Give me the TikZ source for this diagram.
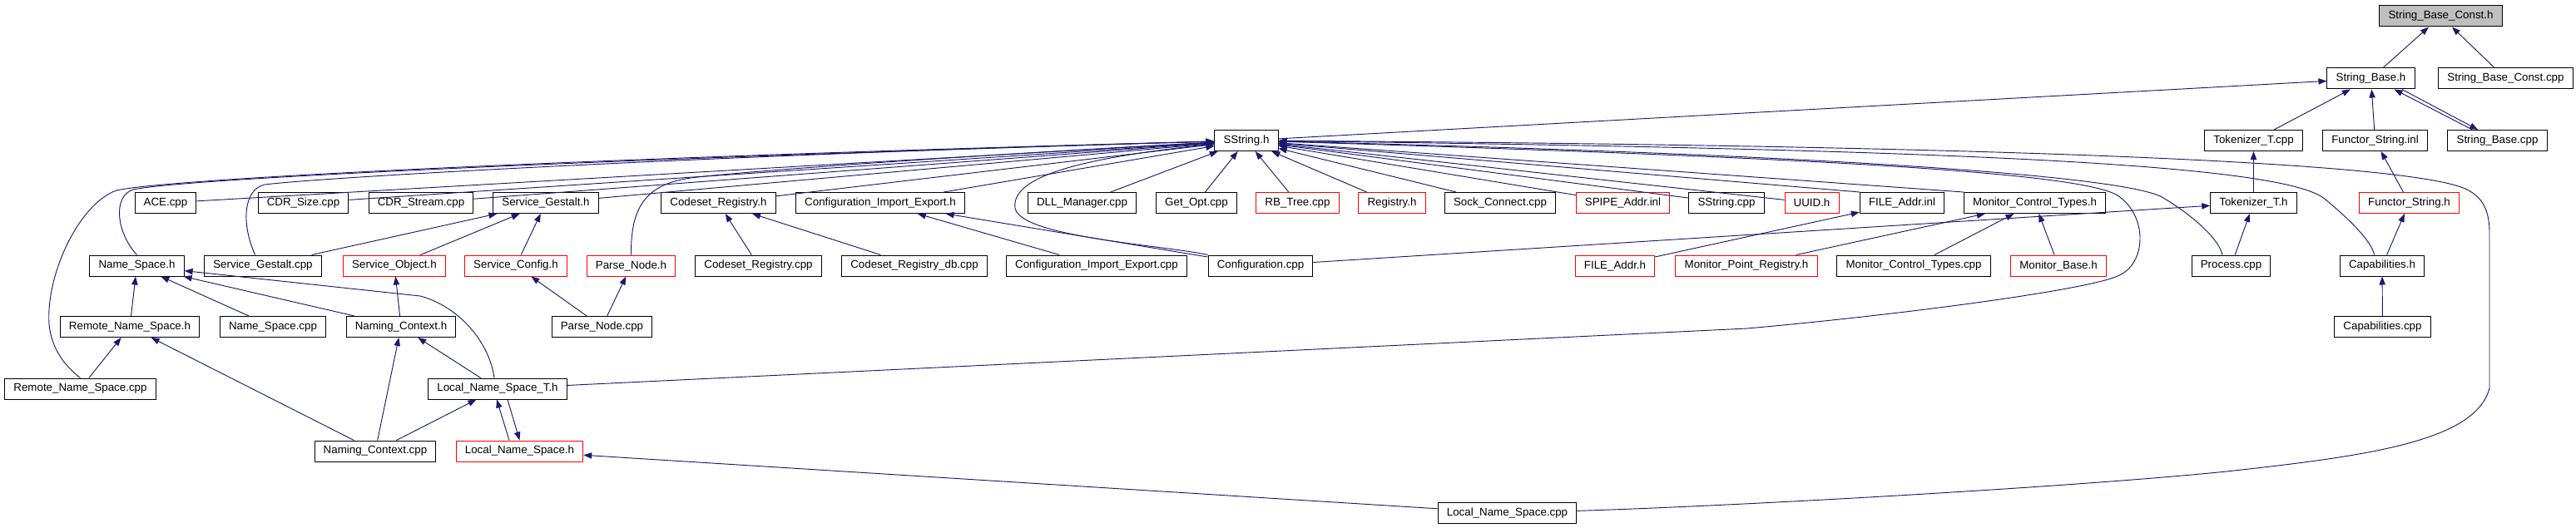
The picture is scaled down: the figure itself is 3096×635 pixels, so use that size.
\documentclass[tikz,border=0pt]{standalone}
\usepackage{fontspec}
\setmainfont{Liberation Sans}
\usepackage{tikz}
\usetikzlibrary{arrows.meta}
\definecolor{edgeblue}{RGB}{25,25,112}
\definecolor{rootgray}{RGB}{191,191,191}
\tikzstyle{file} = [rectangle, draw=black, line width=0.75pt, minimum height=18.75pt, inner xsep=8pt, inner ysep=0pt, text centered, font=\fontsize{10}{12}\selectfont]
\tikzstyle{nodoc} = [file, draw=red]
\tikzstyle{root} = [file, fill=rootgray]
\tikzstyle{edge} = [<-, >={Triangle[length=7.5pt,width=5.5pt]}, draw=edgeblue, line width=0.7pt]

\begin{document}
\begin{tikzpicture}[x=0.75pt, y=-0.75pt]

    \useasboundingbox (0,0) rectangle (3096,635);

    \node (sbch) [root] at (2933.5,19.5) {String\_Base\_Const.h};

    \node (sbh) [file] at (2849.5,94.5) {String\_Base.h};
    \node (sbccpp) [file] at (3011.5,94.5) {String\_Base\_Const.cpp};

    \node (ssh) [file] at (1498,169) {SString.h};
    \node (tokcpp) [file] at (2708.5,169) {Tokenizer\_T.cpp};
    \node (fsinl) [file] at (2854.5,169) {Functor\_String.inl};
    \node (sbcpp) [file] at (3001.5,169) {String\_Base.cpp};

    \node (ace) [file] at (199,244) {ACE.cpp};
    \node (cdrsize) [file] at (364.5,244) {CDR\_Size.cpp};
    \node (cdrstream) [file] at (506,244) {CDR\_Stream.cpp};
    \node (sgh) [file] at (656,244) {Service\_Gestalt.h};
    \node (crh) [file] at (863.5,244) {Codeset\_Registry.h};
    \node (cieh) [file] at (1058,244) {Configuration\_Import\_Export.h};
    \node (dll) [file] at (1300.5,244) {DLL\_Manager.cpp};
    \node (getopt) [file] at (1438,244) {Get\_Opt.cpp};
    \node (rbtree) [nodoc] at (1559.5,244) {RB\_Tree.cpp};
    \node (registry) [nodoc] at (1673,244) {Registry.h};
    \node (sock) [file] at (1803,244) {Sock\_Connect.cpp};
    \node (spipe) [nodoc] at (1950.5,244) {SPIPE\_Addr.inl};
    \node (sscpp) [file] at (2075,244) {SString.cpp};
    \node (uuid) [nodoc] at (2177.5,244) {UUID.h};
    \node (fileinl) [file] at (2286,244) {FILE\_Addr.inl};
    \node (mcth) [file] at (2445.5,244) {Monitor\_Control\_Types.h};
    \node (tokh) [file] at (2708.5,244) {Tokenizer\_T.h};
    \node (fsh) [nodoc] at (2895.5,244) {Functor\_String.h};

    \node (nsh) [file] at (164.5,319.5) {Name\_Space.h};
    \node (sgcpp) [file] at (316,319.5) {Service\_Gestalt.cpp};
    \node (soh) [nodoc] at (474,319.5) {Service\_Object.h};
    \node (sch) [nodoc] at (620,319.5) {Service\_Config.h};
    \node (pnh) [nodoc] at (758.5,319.5) {Parse\_Node.h};
    \node (crcpp) [file] at (911.5,319.5) {Codeset\_Registry.cpp};
    \node (crdb) [file] at (1099,319.5) {Codeset\_Registry\_db.cpp};
    \node (ciecpp) [file] at (1318,319.5) {Configuration\_Import\_Export.cpp};
    \node (confcpp) [file] at (1515,319.5) {Configuration.cpp};
    \node (fileh) [nodoc] at (1941,319.5) {FILE\_Addr.h};
    \node (mprh) [nodoc] at (2099,319.5) {Monitor\_Point\_Registry.h};
    \node (mctcpp) [file] at (2300,319.5) {Monitor\_Control\_Types.cpp};
    \node (mbh) [nodoc] at (2474,319.5) {Monitor\_Base.h};
    \node (proc) [file] at (2681.5,319.5) {Process.cpp};
    \node (caph) [file] at (2863,319.5) {Capabilities.h};

    \node (rnsh) [file] at (156,393) {Remote\_Name\_Space.h};
    \node (nscpp) [file] at (328,393) {Name\_Space.cpp};
    \node (nch) [file] at (482,393) {Naming\_Context.h};
    \node (pncpp) [file] at (723.5,393) {Parse\_Node.cpp};
    \node (capcpp) [file] at (2863.5,393) {Capabilities.cpp};

    \node (rnscpp) [file] at (96.5,467.5) {Remote\_Name\_Space.cpp};
    \node (lnsth) [file] at (598,467.5) {Local\_Name\_Space\_T.h};

    \node (nccpp) [file] at (451,542.5) {Naming\_Context.cpp};
    \node (lnsh) [nodoc] at (624.5,542.5) {Local\_Name\_Space.h};

    \node (lnscpp) [file] at (1811.5,617) {Local\_Name\_Space.cpp};

    \draw [edge] (sbch) -- (sbh);
    \draw [edge] (sbch) -- (sbccpp);
    \draw [edge] (sbh) -- (ssh);
    \draw [edge] (sbh) -- (tokcpp);
    \draw [edge] (sbh) -- (fsinl);
    \draw [edge] ([xshift=21pt]sbh.south) -- ([xshift=-22.5pt]sbcpp.north);
    \draw [edge] ([xshift=-17.5pt]sbcpp.north) -- ([xshift=28pt]sbh.south);
    \draw [edge] (tokcpp) -- (tokh);
    \draw [edge] (fsinl) -- (fsh);
    \draw [edge] (tokh) -- (proc);
    \draw [edge] (tokh) -- (confcpp);
    \draw [edge] (fsh) -- (caph);
    \draw [edge] (caph) -- (capcpp);
    \draw [edge] (mcth) -- (mprh);
    \draw [edge] (mcth) -- (mctcpp);
    \draw [edge] (mcth) -- (mbh);
    \draw [edge] (fileinl) -- (fileh);

    \draw [edge] (ssh) -- (ace);
    \draw [edge] (ssh) -- (cdrsize);
    \draw [edge] (ssh) -- (cdrstream);
    \draw [edge] (ssh) -- (sgh);
    \draw [edge] (ssh) -- (crh);
    \draw [edge] (ssh) -- (cieh);
    \draw [edge] (ssh) -- (dll);
    \draw [edge] (ssh) -- (getopt);
    \draw [edge] (ssh) -- (rbtree);
    \draw [edge] (ssh) -- (registry);
    \draw [edge] (ssh) -- (sock);
    \draw [edge] (ssh) -- (spipe);
    \draw [edge] (ssh) -- (sscpp);
    \draw [edge] (ssh) -- (uuid);
    \draw [edge] (ssh) -- (fileinl.north west);
    \draw [edge] (ssh) -- (mcth.north west);

    % curved ones round the left
    \draw [edge] (ssh) .. controls (700,190) and (200,215) .. (140,229) .. controls (95,245) and (55,330) .. (59,390) .. controls (62,420) and (78,440) .. (rnscpp.north);
    \draw [edge] (ssh) .. controls (700,192) and (220,215) .. (160,228) .. controls (135,236) and (140,280) .. (nsh.north);
    \draw [edge] (ssh) .. controls (900,185) and (400,212) .. (318,222) .. controls (292,228) and (290,270) .. ([xshift=-7pt]sgcpp.north);
    \draw [edge] (ssh) .. controls (1200,185) and (900,205) .. (830,214) .. controls (775,222) and (758,250) .. (pnh.north);
    \draw [edge] (ssh) .. controls (1300,190) and (1215,212) .. (1220,250) .. controls (1225,285) and (1400,295) .. (confcpp.north west);

    % curved ones round the right
    \draw [edge] (ssh) .. controls (2200,186) and (2560,212) .. (2600,238) .. controls (2640,262) and (2668,290) .. ([xshift=-8pt]proc.north);
    \draw [edge] (ssh) .. controls (2400,180) and (2750,200) .. (2795,240) .. controls (2825,265) and (2850,290) .. ([xshift=-7pt]caph.north);
    \draw [edge] (ssh) .. controls (2200,190) and (2500,208) .. (2545,235) .. controls (2582,260) and (2580,318) .. (2545,332) .. controls (2510,348) and (2300,377) .. (2100,395) -- (lnsth);
    \draw [edge] (ssh) .. controls (2400,175) and (2900,195) .. (2965,228) .. controls (2985,238) and (2992,255) .. (2992,280) -- (2992,467) .. controls (2975,530) and (2850,548) .. (2676,567) .. controls (2500,585) and (2100,608) .. (lnscpp);

    \draw [edge] (nsh) -- (rnsh);
    \draw [edge] (nsh) -- (nscpp);
    \draw [edge] (nsh) -- (nch);
    \draw [edge] (nsh) -- (505,356) .. controls (550,368) and (588,410) .. ([xshift=-3pt]lnsth.north);
    \draw [edge] (sgh) -- (sgcpp);
    \draw [edge] (sgh) -- (soh);
    \draw [edge] (sgh) -- (sch);
    \draw [edge] (soh) -- (nch);
    \draw [edge] (sch) -- (pncpp);
    \draw [edge] (pnh) -- (pncpp);
    \draw [edge] (crh) -- (crcpp);
    \draw [edge] (crh) -- (crdb);
    \draw [edge] (cieh) -- (ciecpp);
    \draw [edge] (cieh) -- (confcpp);
    \draw [edge] (rnsh) -- (rnscpp);
    \draw [edge] (rnsh) -- (nccpp);
    \draw [edge] (nch) -- (nccpp);
    \draw [edge] (nch) -- (lnsth);
    \draw [edge] (lnsth) -- (nccpp);
    \draw [edge] ([xshift=-0.75pt]lnsth.south) -- ([xshift=-9.4pt]lnsh.north);
    \draw [edge] (lnsh.north) -- ([xshift=9pt]lnsth.south);
    \draw [edge] (lnsh) -- (lnscpp);

\end{tikzpicture}
\end{document}
